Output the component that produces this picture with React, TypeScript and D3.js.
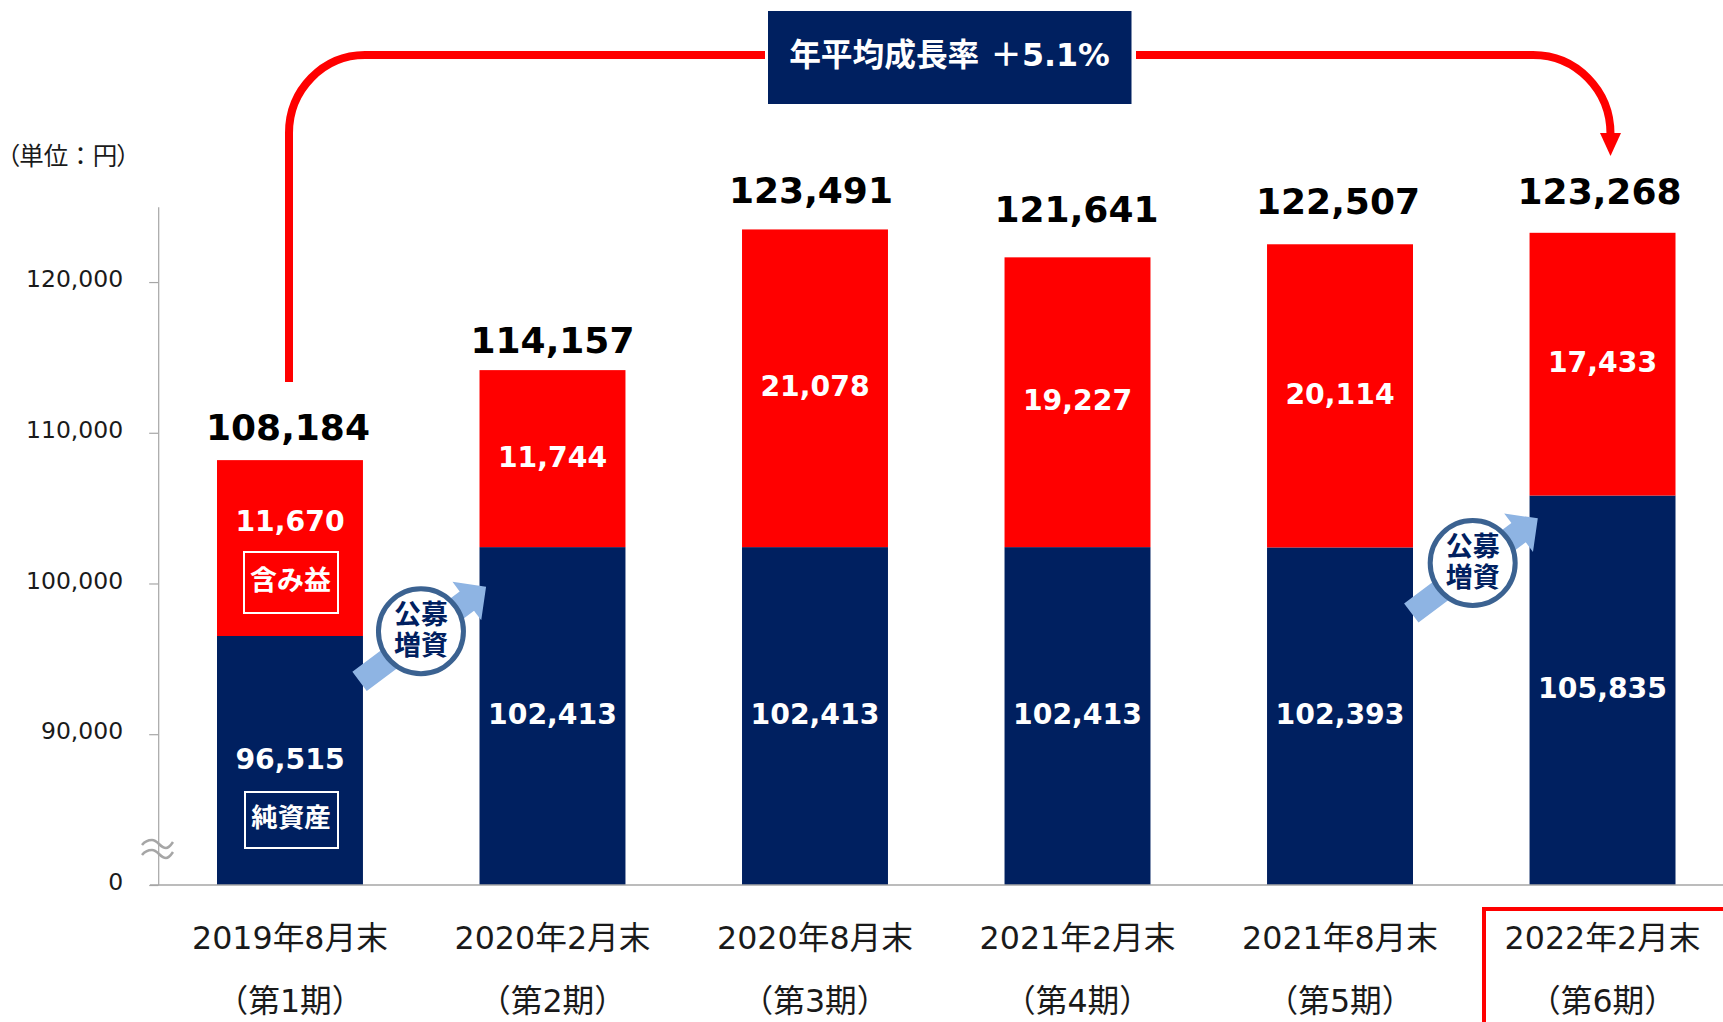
import React, { useRef, useEffect } from 'react';
import * as d3 from 'd3';

const categories = ['2019年8月末', '2020年2月末', '2020年8月末', '2021年2月末', '2021年8月末', '2022年2月末'];
const periods = ['（第1期）', '（第2期）', '（第3期）', '（第4期）', '（第5期）', '（第6期）'];
const netAssets = [96515, 102413, 102413, 102413, 102393, 105835];
const unrealizedGains = [11670, 11744, 21078, 19227, 20114, 17433];
const totals = [108184, 114157, 123491, 121641, 122507, 123268];
const axisTicks = [0, 90000, 100000, 110000, 120000];

// label nudges, the totals are not centred the same way on each bar
const totalLift = [33, 29.5, 38.5, 47.5, 43, 41];
const totalShift = [-2, 0, -4, -1, -2, -3];

const NAVY = '#002060';
const RED = '#ff0000';
const FONT = '"DejaVu Sans", "Noto Sans CJK JP", sans-serif';

const width = 1723;
const height = 1022;
const baseline = 885;

const xScale = d3.scaleBand<string>().domain(categories).range([217, 1675.5]).paddingInner(0.444).paddingOuter(0);
// broken axis: 0 to 90,000 is squeezed
const yScale = d3.scaleLinear().domain([0, 90000, 125000]).range([baseline, 734.2, 206.7]);

const rows = categories.map((c, i) => ({ category: c, net: netAssets[i], gain: unrealizedGains[i] }));
const stacked = d3.stack<any>().keys(['net', 'gain'])(rows);
const fmt = d3.format(',');

const growthLeft = d3.path();
growthLeft.moveTo(289, 382);
growthLeft.lineTo(289, 133);
growthLeft.bezierCurveTo(289, 90, 323, 55, 365, 55);
growthLeft.lineTo(765, 55);

const growthRight = d3.path();
growthRight.moveTo(1136, 55);
growthRight.lineTo(1533, 55);
growthRight.bezierCurveTo(1576, 55, 1610.5, 90, 1610.5, 134);

const highlight = d3.path();
highlight.moveTo(1484, 1030);
highlight.lineTo(1484, 909);
highlight.lineTo(1730, 909);

// block arrow in its own coordinates, pointing along +x
const arrowShape = [[0, -12], [134, -12], [134, -24], [158, 0], [134, 24], [134, 12], [0, 12]];
const arrowPath = d3.line()(arrowShape as [number, number][]) + 'Z';

const raises = [
  { after: 0, dx: 58, cy: 631.3 },
  { after: 4, dx: 59.7, cy: 563 },
];

const palt = { fontFeatureSettings: '"palt"' };

const App = () => {
  const axisEl = useRef<SVGGElement>(null);

  useEffect(() => {
    const g = d3.select(axisEl.current);
    g.call(d3.axisLeft(yScale).tickValues(axisTicks).tickSize(9).tickSizeOuter(0).tickFormat(d => fmt(d as number)) as any);
    g.select('.domain').attr('stroke', '#a6a6a6').attr('stroke-width', 1.2);
    g.selectAll('.tick line').attr('stroke', '#a6a6a6').attr('stroke-width', 1.2);
    g.selectAll('.tick text')
      .attr('x', -35)
      .attr('y', -3)
      .attr('fill', '#1a1a1a')
      .style('font-family', FONT)
      .style('font-size', '23.5px');
  }, []);

  const bw = xScale.bandwidth();

  return (
    <svg width={width} height={height} style={{ position: 'absolute', left: 0, top: 0, display: 'block' }} fontFamily={FONT}>
      {/* bars */}
      {stacked.map((layer, s) => layer.map((d, i) => (
        <rect key={s + '-' + i} x={xScale(categories[i])} y={yScale(d[1])} width={bw}
          height={yScale(d[0]) - yScale(d[1])} fill={s === 0 ? NAVY : RED} />
      )))}

      <g ref={axisEl} transform="translate(158.2,0)" />
      <line x1={150} x2={width} y1={baseline} y2={baseline} stroke="#a6a6a6" strokeWidth={1.5} />

      {/* axis break */}
      <path d="M142 845 C145 841 149 840 152 840 C158 840 160 848 166 848 C169 848 171 845 173 842" fill="none" stroke="#a6a6a6" strokeWidth={2.5} />
      <path d="M142 855 C145 851 149 850 152 850 C158 850 160 858 166 858 C169 858 171 855 173 852" fill="none" stroke="#a6a6a6" strokeWidth={2.5} />

      <text x={7} y={156} fontSize={24.5} dominantBaseline="central" fill="#1a1a1a">
        <tspan style={palt}>（</tspan>単位：円<tspan style={palt}>）</tspan>
      </text>

      {/* values inside bars */}
      {stacked.map((layer, s) => layer.map((d, i) => (
        <text key={'v' + s + '-' + i} x={xScale(categories[i])! + bw / 2}
          y={(yScale(d[0]) + yScale(d[1])) / 2 + (s === 1 && i === 0 ? -25 : 0) - 1.3}
          textAnchor="middle" dominantBaseline="central" fill="#fff" fontSize={28.3} fontWeight="bold">
          {fmt(s === 0 ? netAssets[i] : unrealizedGains[i])}
        </text>
      )))}

      {/* totals */}
      {totals.map((t, i) => (
        <text key={'t' + i} x={xScale(categories[i])! + bw / 2 + totalShift[i]} y={yScale(t) - totalLift[i]}
          textAnchor="middle" dominantBaseline="central" fill="#000" fontSize={36} fontWeight="bold">
          {fmt(t)}
        </text>
      ))}

      {/* series tags on the first bar */}
      <rect x={244} y={552} width={94} height={61} fill="none" stroke="#fff" strokeWidth={2} />
      <text x={290.5} y={580.5} textAnchor="middle" dominantBaseline="central" fill="#fff" fontSize={27} fontWeight="bold">含み益</text>
      <rect x={245} y={792} width={93} height={56} fill="none" stroke="#fff" strokeWidth={2} />
      <text x={291} y={817} textAnchor="middle" dominantBaseline="central" fill="#fff" fontSize={26.5} fontWeight="bold">純資産</text>

      {/* category labels */}
      {categories.map((c, i) => {
        const cx = xScale(c)! + bw / 2;
        return (
          <g key={c}>
            <text x={cx} y={937.5} textAnchor="middle" dominantBaseline="central" fontSize={31.7} fill="#1a1a1a">{c}</text>
            <text x={cx} y={1000.5} textAnchor="middle" dominantBaseline="central" fontSize={31.7} fill="#1a1a1a">{periods[i]}</text>
          </g>
        );
      })}
      <path d={highlight.toString()} fill="none" stroke={RED} strokeWidth={4} />

      {/* growth arrow */}
      <path d={growthLeft.toString()} fill="none" stroke={RED} strokeWidth={8} />
      <path d={growthRight.toString()} fill="none" stroke={RED} strokeWidth={8} />
      <path d="M1600 133 L1621 133 L1610.5 156 Z" fill={RED} />
      <rect x={768} y={11} width={363.5} height={93} fill={NAVY} />
      <text x={949.5} y={54.5} textAnchor="middle" dominantBaseline="central" fill="#fff" fontSize={31.7} fontWeight="bold">年平均成長率 ＋5.1%</text>

      {/* capital raise markers */}
      {raises.map(r => {
        const cx = xScale(categories[r.after])! + bw + r.dx;
        return (
          <g key={r.after}>
            <path d={arrowPath} fill="#8eb4e3" transform={`translate(${cx - 61.4},${r.cy + 50}) rotate(-36.8)`} />
            <circle cx={cx} cy={r.cy} r={42.5} fill="#fff" stroke="#3b6291" strokeWidth={5} />
            <text x={cx} y={r.cy - 17} textAnchor="middle" dominantBaseline="central" fill={NAVY} fontSize={27} fontWeight="bold">公募</text>
            <text x={cx} y={r.cy + 14.5} textAnchor="middle" dominantBaseline="central" fill={NAVY} fontSize={27} fontWeight="bold">増資</text>
          </g>
        );
      })}
    </svg>
  );
};

export default App;
